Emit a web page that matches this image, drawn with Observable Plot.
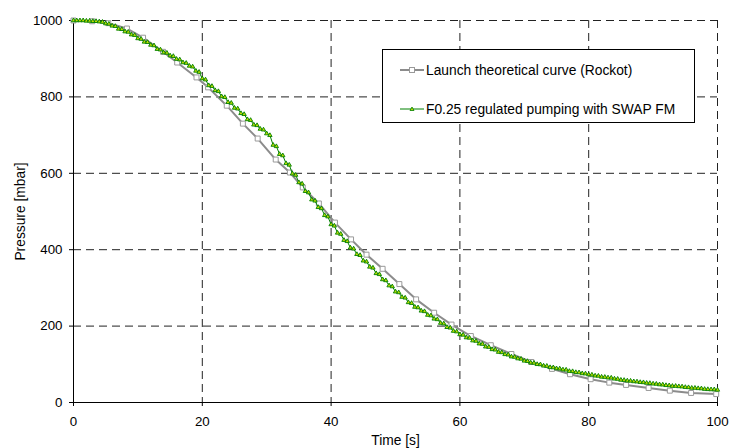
<!DOCTYPE html>
<html>
<head>
<meta charset="utf-8">
<script src="https://cdn.jsdelivr.net/npm/d3@7"></script>
<script src="https://cdn.jsdelivr.net/npm/@observablehq/plot@0.6"></script>
<style>
  html, body { margin: 0; padding: 0; background: #fff; }
  #wrap { position: relative; width: 739px; height: 448px; font-family: "Liberation Sans", Arial, sans-serif; }
  #legend { position: absolute; left: 382px; top: 49px; width: 313px; height: 74px; box-sizing: border-box;
            border: 1px solid #000; background: #fff; font-size: 13.8px; color: #000; }
  .row { position: absolute; left: 17px; height: 16px; display: flex; align-items: center; white-space: nowrap; }
  .row svg { margin-right: 2px; }
</style>
</head>
<body>
<div id="wrap"></div>
<script>
// ---- Data ----
const seriesNames = ["Launch theoretical curve (Rockot)", "F0.25 regulated pumping with SWAP FM"];

// Theoretical curve: marker times [s] and pressures [mbar]
const theoT = [0, 2.9, 5.4, 8.3, 10.8, 13.9, 16.1, 19.1, 20.9, 23.8, 26.3, 28.6, 31.4, 33.6, 35.6, 38.1,
  40.6, 43.1, 45.5, 48.0, 50.6, 53.2, 56.0, 58.7, 61.7, 64.8, 68.0, 71.1, 74.3, 77.1, 80.3, 83.2,
  85.8, 89.3, 92.6, 95.9, 99.8];
const theoP = [1000, 998, 993, 979, 955, 918, 890, 851, 825, 777, 730, 691, 636, 602, 563, 521,
  471, 427, 387, 350, 310, 270, 235, 204, 174, 150, 127, 106, 88, 74, 61, 52,
  46, 38, 31, 25, 22];

// Measured curve: sampled every 0.5 s from 0 to 100 s
const greenDt = 0.5;
const greenP = [
  1000, 1000, 1000, 1000, 999, 999, 998, 998, 997, 996,
  992, 991, 986, 985, 978, 977, 971, 970, 963, 961.5,
  953, 951.5, 944, 943, 936, 934.5, 925, 923.5, 916, 915,
  908, 906.5, 899, 897.5, 890, 888.5, 881, 879, 868, 865,
  848, 845, 830, 828, 817, 814.5, 801, 799, 786, 784,
  771, 769, 757, 754.5, 741, 739, 727, 725.5, 716, 714,
  704, 699.5, 674, 670.5, 650, 646.5, 626, 622, 599, 595.5,
  576, 572.5, 553, 549.5, 531, 528, 511, 508, 490, 486.5,
  466, 462.5, 444, 441, 425, 422, 405, 402.5, 388, 385.5,
  371, 368.5, 355, 352.5, 338, 335.5, 322, 319.5, 306, 303.5,
  290, 288, 276, 274, 262, 260, 250, 248.5, 240, 238.5,
  229, 227.5, 219, 217.5, 208, 206.5, 197, 195.5, 187, 185.5,
  178, 177, 170, 169, 162, 161, 154, 153, 146, 145,
  139, 138, 132, 131, 126, 125, 120, 119, 115, 114,
  109, 108, 104, 103.5, 100, 99.5, 96, 95.5, 92, 91.5,
  89, 88.5, 86, 85.5, 82, 81.5, 79, 78.5, 76, 75.5,
  73, 72.5, 70, 69.5, 67, 66.5, 65, 64.5, 62, 61.5,
  59, 58.5, 57, 56.5, 55, 54.5, 53, 52.5, 51, 50.5,
  49, 48.5, 47, 46.5, 45, 44.5, 43, 43, 42, 41.5,
  40, 39.5, 38, 38, 37, 36.5, 35, 34.5, 34, 34,
  33
];

const xTicks = [0, 20, 40, 60, 80, 100];
const yTicks = [0, 200, 400, 600, 800, 1000];
const xLabel = "Time [s]";
const yLabel = "Pressure [mbar]";

// ---- Build tables ----
const theo = theoT.map((t, i) => ({t, p: theoP[i]}));
const green = greenP.map((p, i) => ({t: i * greenDt, p}));

const grayStroke = "#8c8c8c";
const greenStroke = "#008000";
const greenFill = "#c0dc00";

const chart = Plot.plot({
  width: 739,
  height: 448,
  marginLeft: 73,
  marginRight: 22,
  marginTop: 20,
  marginBottom: 46,
  style: {fontFamily: "Liberation Sans, Arial, sans-serif", fontSize: "13.3px", color: "#000", background: "#fff"},
  x: {domain: [0, 100], ticks: xTicks, tickSize: 4, tickPadding: 10, tickFormat: d => String(d), label: null},
  y: {domain: [0, 1000], ticks: yTicks, tickSize: 4, tickPadding: 7, tickFormat: d => String(d), label: null},
  marks: [
    Plot.ruleX(xTicks.filter(d => d > 0), {stroke: "#222", strokeDasharray: "8,5", strokeWidth: 1}),
    Plot.ruleY(yTicks.filter(d => d > 0), {stroke: "#222", strokeDasharray: "8,5", strokeWidth: 1}),
    Plot.ruleX([0], {stroke: "#000"}),
    Plot.ruleY([0], {stroke: "#000"}),
    Plot.line(theo, {x: "t", y: "p", stroke: grayStroke, strokeWidth: 2}),
    Plot.dot(theo, {x: "t", y: "p", symbol: "square", r: 2.8, stroke: "#9a9a9a", fill: "#fff", strokeWidth: 1}),
    Plot.line(green, {x: "t", y: "p", stroke: greenStroke, strokeWidth: 1}),
    Plot.dot(green, {x: "t", y: "p", symbol: "triangle", r: 1.6, stroke: greenStroke, fill: greenFill, strokeWidth: 0.9}),
    Plot.text([xLabel], {frameAnchor: "bottom", dy: 38, lineAnchor: "middle", textAnchor: "middle", fontSize: 13.8}),
    Plot.text([yLabel], {frameAnchor: "left", dx: -53, rotate: -90, lineAnchor: "middle", textAnchor: "middle", fontSize: 13.8})
  ]
});

const wrap = document.getElementById("wrap");
wrap.appendChild(chart);

// ---- Legend ----
const legend = document.createElement("div");
legend.id = "legend";
const sample = (i) => i === 0
  ? `<svg width="24" height="10"><line x1="0" y1="5" x2="24" y2="5" stroke="${grayStroke}" stroke-width="2"/><rect x="9.5" y="2.5" width="5" height="5" fill="#fff" stroke="#9a9a9a"/></svg>`
  : `<svg width="24" height="10"><line x1="0" y1="5" x2="24" y2="5" stroke="${greenStroke}" stroke-width="1"/><path d="M12,3 L14,6.5 L10,6.5 Z" fill="${greenFill}" stroke="${greenStroke}" stroke-width="0.8"/></svg>`;
const rowTops = [12, 51];
seriesNames.forEach((name, i) => {
  const row = document.createElement("div");
  row.className = "row";
  row.style.top = rowTops[i] + "px";
  row.innerHTML = sample(i) + `<span>${name}</span>`;
  legend.appendChild(row);
});
wrap.appendChild(legend);
</script>
</body>
</html>
